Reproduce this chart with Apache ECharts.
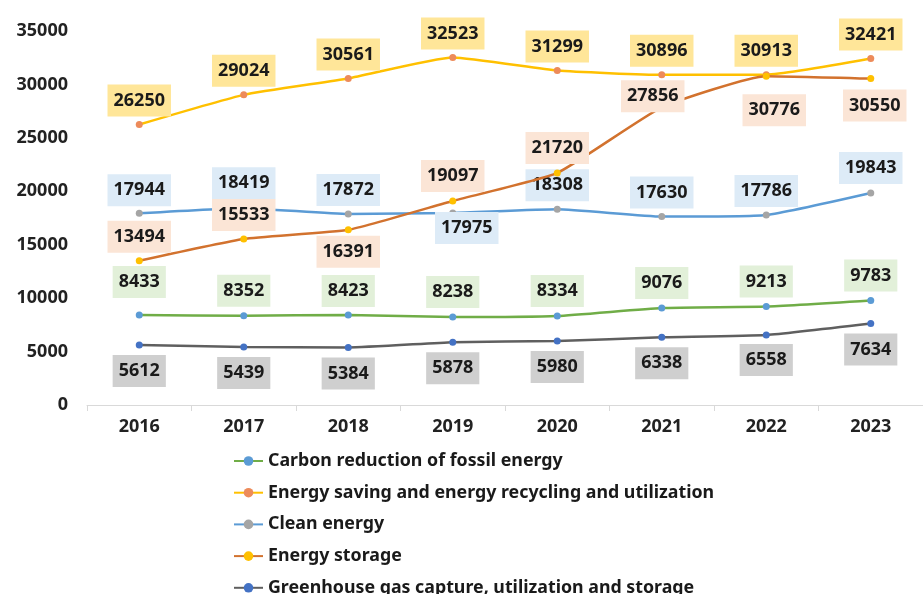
<!DOCTYPE html>
<html>
<head>
<meta charset="utf-8">
<script src="https://cdn.jsdelivr.net/npm/echarts@6/dist/echarts.min.js"></script>
<style>html,body{margin:0;padding:0;background:#fff}#c{width:923px;height:594px}</style>
</head>
<body>
<div id="c"></div>
<script>
const categories = ['2016','2017','2018','2019','2020','2021','2022','2023'];
const seriesNames = [
  'Carbon reduction of fossil energy',
  'Energy saving and energy recycling and utilization',
  'Clean energy',
  'Energy storage',
  'Greenhouse gas capture, utilization and storage'
];
const carbonReduction = [8433, 8352, 8423, 8238, 8334, 9076, 9213, 9783];
const energySaving = [26250, 29024, 30561, 32523, 31299, 30896, 30913, 32421];
const cleanEnergy = [17944, 18419, 17872, 17975, 18308, 17630, 17786, 19843];
const energyStorage = [13494, 15533, 16391, 19097, 21720, 27856, 30776, 30550];
const greenhouseGas = [5612, 5439, 5384, 5878, 5980, 6338, 6558, 7634];

// label placement (pixel offsets of label centre from point), styling only
const labelOffsets = [
  [[0,-33],[0,-25],[0,-24],[0,-25],[0,-25],[0,-25],[0,-25],[0,-25]],
  [[0,-24],[0,-24],[0,-24],[0,-24],[0,-24],[0,-24],[0,-24],[0,-24]],
  [[0,-23],[0,-25],[0,-24],[14,15],[0,-24],[0,-24],[0,-24],[0,-25]],
  [[0,-24],[0,-24],[0,22],[0,-25],[0,-25],[-9,-11],[8,34],[4,27]],
  [[0,26],[0,26],[0,26],[0,26],[0,26],[0,26],[0,25],[0,26]]
];
const lineColors = ['#70AD47','#FFC000','#5B9BD5','#D2722E','#5F5F5F'];
const markerColors = ['#5B9BD5','#ED8B5A','#A5A5A5','#FFC000','#4472C4'];
const labelBg = ['#E2F0D9','#FFE699','#DDEBF7','#FBE5D6','#CFCFCF'];
const values = [carbonReduction, energySaving, cleanEnergy, energyStorage, greenhouseGas];

const FONT = 'Noto Sans';
const series = values.map((vals, i) => ({
  name: seriesNames[i],
  type: 'line',
  smooth: 0.15,
  symbol: 'circle',
  symbolSize: 7,
  lineStyle: { color: lineColors[i], width: 2.5 },
  itemStyle: { color: markerColors[i] },
  z: i === 3 ? 3 : 2,
  data: vals.map((v, j) => ({
    value: v,
    label: { offset: labelOffsets[i][j] }
  })),
  label: {
    show: true,
    position: 'inside',
    fontFamily: FONT,
    fontSize: 18,
    fontWeight: 'bold',
    color: '#1a1a1a',
    backgroundColor: labelBg[i],
    padding: [7, 6, 7, 6]
  }
}));

const chart = echarts.init(document.getElementById('c'));
chart.setOption({
  animation: false,
  grid: { left: 87, top: 31, height: 374, width: 847, containLabel: false },
  xAxis: {
    type: 'category',
    data: categories,
    boundaryGap: true,
    axisLine: { lineStyle: { color: '#d9d9d9', width: 1 } },
    axisTick: { show: true, length: 6, lineStyle: { color: '#d9d9d9' } },
    axisLabel: { fontFamily: FONT, fontSize: 18, fontWeight: 'bold', color: '#222', margin: 13 }
  },
  yAxis: {
    type: 'value',
    min: 0, max: 35000, interval: 5000,
    splitLine: { show: false },
    axisLine: { show: false },
    axisTick: { show: false },
    axisLabel: { fontFamily: FONT, fontSize: 18, fontWeight: 'bold', color: '#222', margin: 19,
      formatter: v => String(v) }
  },
  legend: {
    orient: 'vertical',
    left: 228,
    top: 446,
    height: 300,
    itemWidth: 29,
    itemHeight: 12,
    itemGap: 11.7,
    data: seriesNames,
    textStyle: { fontFamily: FONT, fontSize: 17.8, fontWeight: 'bold', color: '#1a1a1a', lineHeight: 20 }
  },
  series: series
});
</script>
</body>
</html>
